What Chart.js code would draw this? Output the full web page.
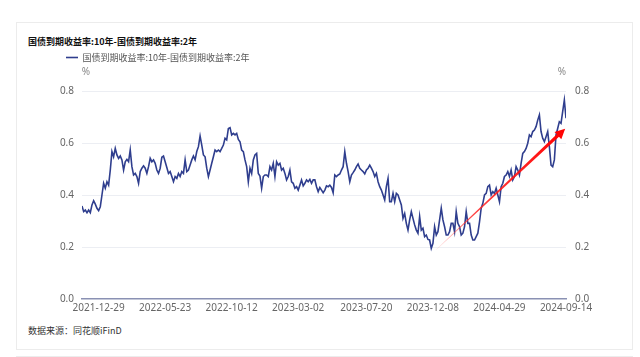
<!DOCTYPE html>
<html>
<head>
<meta charset="utf-8">
<script src="https://cdn.jsdelivr.net/npm/chart.js@4"></script>
<style>
  html, body { margin: 0; padding: 0; background: #fff; }
  body { width: 640px; height: 357px; position: relative; overflow: hidden; }
  .card { position: absolute; left: 16px; top: 22px; width: 615px; height: 326px; border: 1px solid #ececec; box-sizing: content-box; }
  .card2 { position: absolute; left: 16px; top: 356px; width: 615px; height: 20px; border: 1px solid #ececec; }
  #title { position: absolute; left: 28px; top: 35px; font: bold 9px "Noto Sans CJK SC", sans-serif; color: #111; white-space: nowrap; }
  #source { position: absolute; left: 28px; top: 324px; font: 9px "Noto Sans CJK SC", sans-serif; color: #333; white-space: nowrap; }
  canvas { position: absolute; left: 0; top: 0; }
</style>
</head>
<body>
<div class="card"></div>
<div class="card2"></div>
<div id="title">国债到期收益率:10年-国债到期收益率:2年</div>
<div id="source">数据来源：同花顺iFinD</div>
<canvas id="c" width="640" height="357"></canvas>
<script>
const seriesName = "国债到期收益率:10年-国债到期收益率:2年";
const spreadValues = [
0.358,0.336,0.342,0.332,0.342,0.332,0.362,0.378,0.365,0.349,0.340,0.355,0.400,0.445,0.426,0.451,0.438,0.496,0.567,0.547,
0.579,0.554,0.541,0.550,0.535,0.496,0.528,0.537,0.528,0.573,0.509,0.477,0.483,0.471,0.445,0.490,0.503,0.512,0.503,0.483,
0.509,0.541,0.528,0.535,0.522,0.496,0.483,0.503,0.545,0.550,0.528,0.506,0.483,0.490,0.471,0.451,0.471,0.464,0.483,0.471,
0.490,0.483,0.535,0.490,0.496,0.515,0.535,0.550,0.535,0.567,0.586,0.627,0.592,0.554,0.547,0.503,0.471,0.496,0.522,0.547,
0.573,0.567,0.573,0.567,0.579,0.592,0.618,0.612,0.656,0.659,0.631,0.637,0.631,0.637,0.614,0.605,0.573,0.567,0.535,0.509,
0.451,0.503,0.483,0.535,0.554,0.560,0.483,0.473,0.426,0.471,0.477,0.477,0.471,0.509,0.496,0.522,0.471,0.528,0.515,0.522,
0.496,0.503,0.483,0.458,0.471,0.496,0.451,0.445,0.426,0.432,0.419,0.438,0.458,0.435,0.445,0.458,0.451,0.460,0.445,0.458,
0.458,0.432,0.413,0.429,0.419,0.409,0.419,0.435,0.432,0.438,0.429,0.409,0.477,0.471,0.477,0.481,
0.496,0.509,0.567,0.522,0.490,0.451,0.477,0.486,0.496,0.509,0.519,0.503,0.496,0.490,0.481,0.496,0.503,0.515,0.503,0.490,
0.471,0.483,0.451,0.432,0.419,0.400,0.381,0.432,0.464,0.374,0.374,0.406,0.374,0.406,0.400,0.381,0.362,0.310,0.329,0.291,
0.265,0.304,0.336,0.310,0.285,0.265,0.253,0.317,0.265,0.272,0.240,0.246,0.229,0.227,0.195,0.214,0.278,0.246,0.259,0.304,
0.349,0.304,0.278,0.246,0.246,0.259,0.291,0.291,0.259,0.336,0.291,0.278,0.246,0.253,0.278,0.336,0.291,0.291,0.246,0.227,
0.227,0.240,0.253,0.297,0.349,0.368,0.400,0.406,0.432,0.438,0.400,0.413,0.406,0.426,0.400,0.374,0.432,0.445,0.471,0.477,
0.490,0.471,0.496,0.458,0.471,0.509,0.496,0.477,0.522,0.560,0.567,0.579,0.599,0.631,0.624,0.644,0.650,0.663,0.688,0.708,
0.644,0.618,0.605,0.624,0.644,0.586,0.515,0.509,0.535,0.631,0.656,0.682,0.676,0.721,0.765,0.695
];
const xTickLabels = ["2021-12-29","2022-05-23","2022-10-12","2023-03-02","2023-07-20","2023-12-08","2024-04-29","2024-09-14"];
const xTickIndex = [10, 50, 90, 130, 171, 211, 251, spreadValues.length - 1];
const yTicks = [0, 0.2, 0.4, 0.6, 0.8];
const arrowFrom = { x: 213, y: 0.19 };
const arrowTo = { x: 290.5, y: 0.655 };

const points = spreadValues.map((v, i) => ({ x: i, y: v }));

const extrasPlugin = {
  id: 'extras',
  beforeInit(chart) {
    const lg = chart.legend;
    if (lg) {
      const orig = lg.fit;
      lg.fit = function () { orig.call(this); this.height = 91 - 45; };
    }
  },
  afterDatasetsDraw(chart) {
    const ctx = chart.ctx;
    const xs = chart.scales.x, ys = chart.scales.y;
    const x0 = xs.getPixelForValue(arrowFrom.x), y0 = ys.getPixelForValue(arrowFrom.y);
    const x1 = xs.getPixelForValue(arrowTo.x), y1 = ys.getPixelForValue(arrowTo.y);
    const ang = Math.atan2(y1 - y0, x1 - x0);
    const len = Math.hypot(x1 - x0, y1 - y0);
    const headLen = 10, headW = 5;
    ctx.save();
    ctx.translate(x0, y0);
    ctx.rotate(ang);
    const g = ctx.createLinearGradient(0, 0, len, 0);
    g.addColorStop(0, 'rgba(255,120,120,0.15)');
    g.addColorStop(0.25, 'rgba(255,40,40,0.85)');
    g.addColorStop(1, 'rgba(255,0,0,1)');
    ctx.fillStyle = g;
    ctx.beginPath();
    ctx.moveTo(0, -0.3);
    ctx.lineTo(len - headLen, -1.6);
    ctx.lineTo(len - headLen, -headW);
    ctx.lineTo(len, 0);
    ctx.lineTo(len - headLen, headW);
    ctx.lineTo(len - headLen, 1.6);
    ctx.lineTo(0, 0.3);
    ctx.closePath();
    ctx.fill();
    ctx.restore();

    const ca = chart.chartArea;
    ctx.save();
    ctx.font = '10px "Noto Sans", sans-serif';
    ctx.fillStyle = '#888';
    ctx.textBaseline = 'middle';
    ctx.textAlign = 'center';
    ctx.fillText('%', ca.left + 4, ca.top - 19);
    ctx.fillText('%', ca.right - 4, ca.top - 19);
    ctx.restore();
  }
};

new Chart(document.getElementById('c'), {
  type: 'line',
  data: {
    datasets: [{
      label: seriesName,
      data: points,
      borderColor: '#2f3e8e',
      backgroundColor: '#2f3e8e',
      borderWidth: 1.6,
      pointRadius: 0,
      tension: 0,
      yAxisID: 'y'
    }]
  },
  options: {
    responsive: false,
    animation: false,
    layout: { padding: { left: 58, right: 0, top: 45, bottom: 30 } },
    plugins: {
      title: { display: false },
      tooltip: { enabled: false },
      legend: {
        display: true,
        position: 'top',
        align: 'start',
        labels: {
          usePointStyle: true,
          pointStyle: 'line',
          pointStyleWidth: 12,
          boxWidth: 12,
          boxHeight: 9,
          padding: 8,
          color: '#555',
          font: { family: '"Noto Sans CJK SC", sans-serif', size: 9 }
        }
      }
    },
    scales: {
      x: {
        type: 'linear',
        min: 0,
        max: spreadValues.length - 1,
        grid: { display: false, drawTicks: false },
        border: { display: true, color: '#8a91b3', width: 1.5 },
        afterBuildTicks(scale) { scale.ticks = xTickIndex.map(v => ({ value: v })); },
        afterFit(scale) { scale.height = 28; },
        ticks: {
          autoSkip: false,
          maxRotation: 0,
          padding: 3,
          color: '#666',
          font: { family: '"Noto Sans", sans-serif', size: 10 },
          callback: (v) => { const k = xTickIndex.indexOf(v); return k >= 0 ? xTickLabels[k] : ''; }
        }
      },
      y: {
        position: 'left',
        min: 0, max: 0.8,
        afterBuildTicks(scale) { scale.ticks = yTicks.map(v => ({ value: v })); },
        afterFit(scale) { scale.width = 24; },
        grid: { color: (c) => c.tick && c.tick.value === 0 ? 'rgba(0,0,0,0)' : '#eceef3', drawTicks: false, lineWidth: 1 },
        border: { display: false },
        ticks: { padding: 8, color: '#666', font: { family: '"Noto Sans", sans-serif', size: 10 }, callback: (v) => Number(v).toFixed(1) }
      },
      y2: {
        position: 'right',
        min: 0, max: 0.8,
        afterBuildTicks(scale) { scale.ticks = yTicks.map(v => ({ value: v })); },
        afterFit(scale) { scale.width = 74; },
        grid: { display: false, drawTicks: false },
        border: { display: false },
        ticks: { padding: 9, color: '#666', font: { family: '"Noto Sans", sans-serif', size: 10 }, callback: (v) => Number(v).toFixed(1) }
      }
    }
  },
  plugins: [extrasPlugin]
});
</script>
</body>
</html>
